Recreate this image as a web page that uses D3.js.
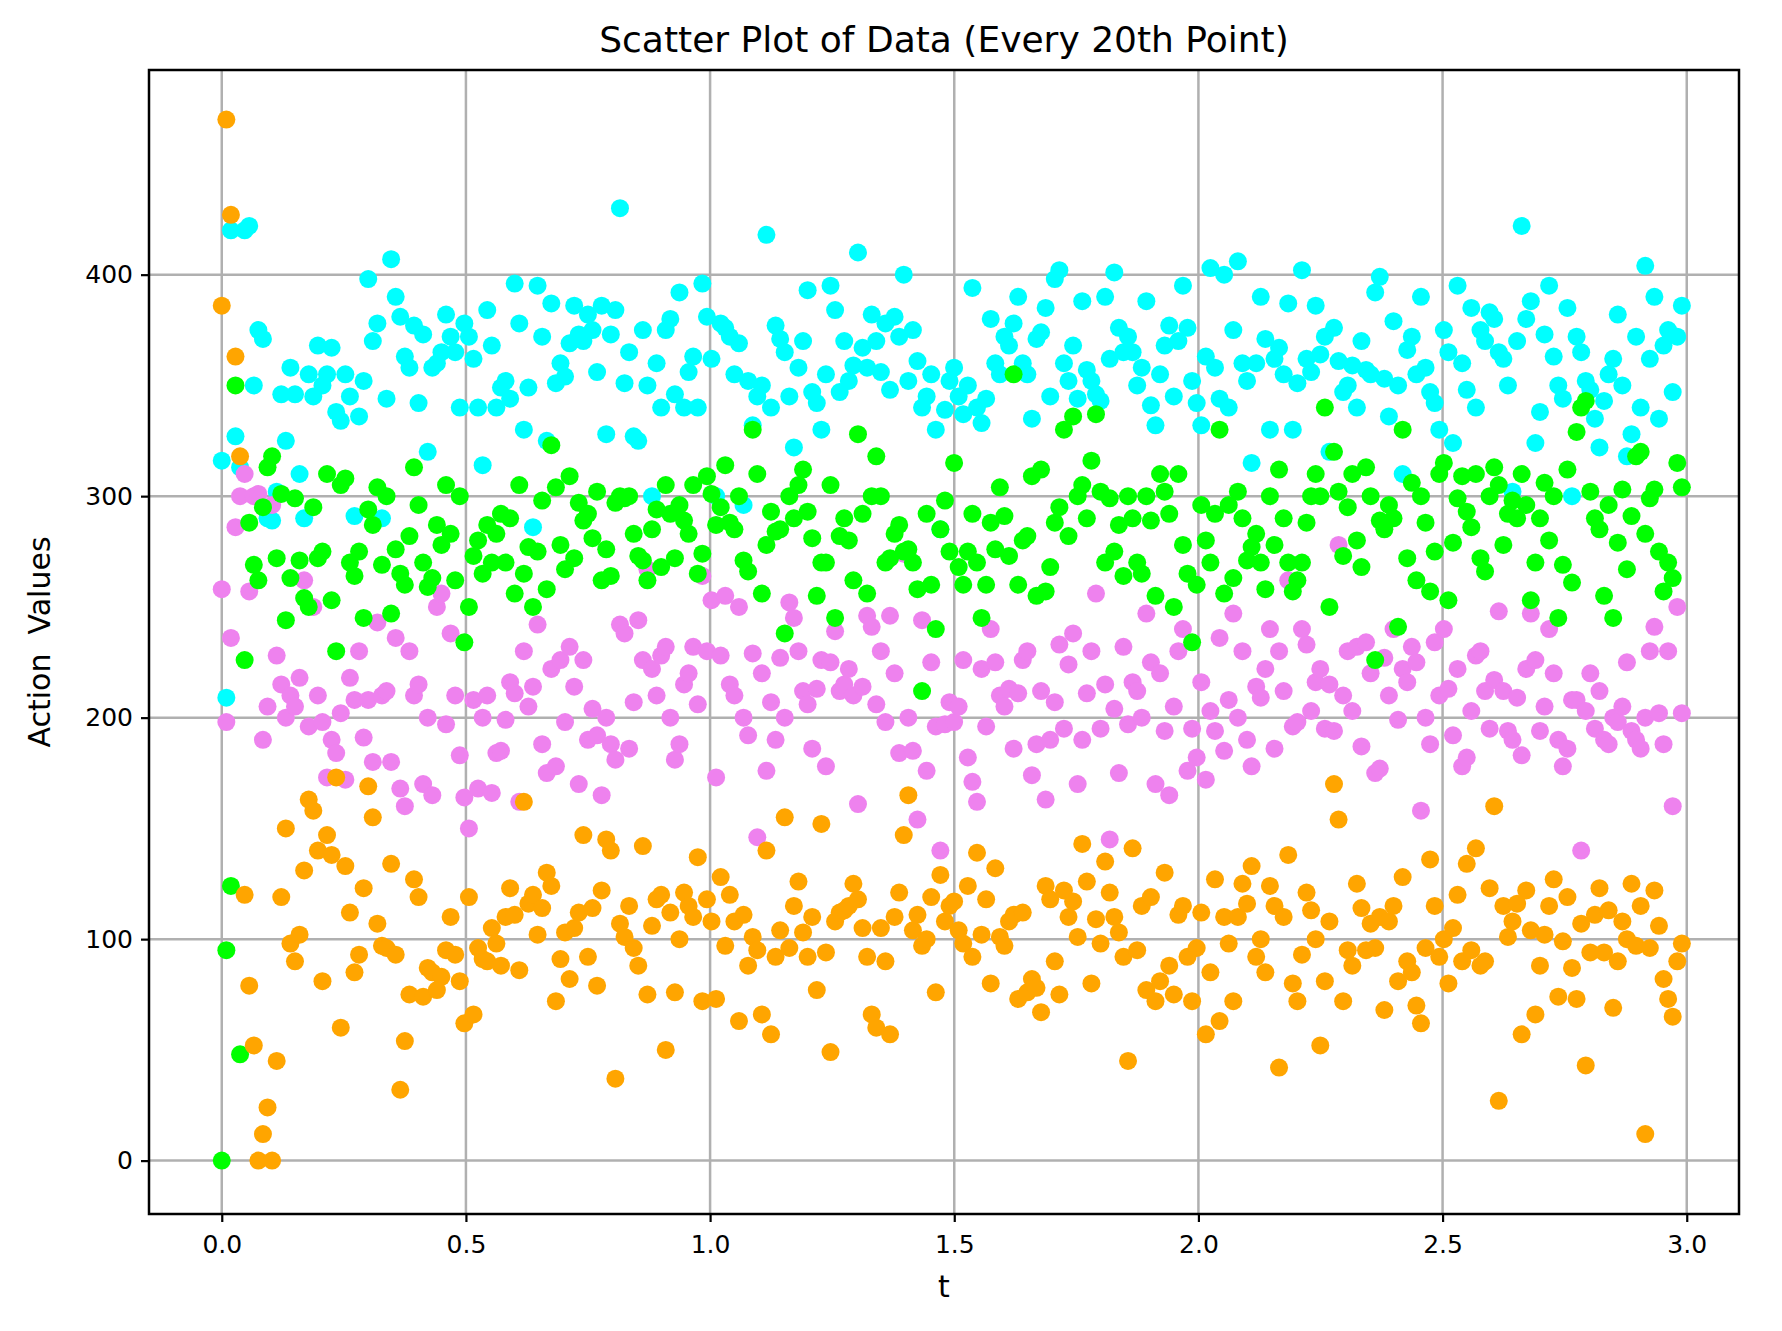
<!DOCTYPE html>
<html><head><meta charset="utf-8">
<script src="https://cdn.jsdelivr.net/npm/d3@7"></script>
<style>body{margin:0;background:#fff}text{font-family:"DejaVu Sans",sans-serif}</style>
</head><body><svg id="c" width="1782" height="1331"></svg>
<script>
const xTicks=[0,0.5,1,1.5,2,2.5,3];
const yTicks=[0,100,200,300,400];
const cyanVals=[316,209,420,327,313,420,422,350,375,371,290,289,302,346,325,358,346,310,290,355,
345,368,350,355,367,338,334,355,345,291,336,352,398,370,378,290,344,407,390,381,
363,358,377,342,373,320,358,360,365,382,372,365,340,378,372,362,340,314,384,368,
340,349,352,344,396,378,330,349,286,395,372,325,387,351,360,354,369,386,373,370,
382,375,356,386,328,373,384,430,351,365,327,325,375,350,300,360,340,375,380,346,
392,340,356,363,340,396,381,362,300,378,376,372,355,369,296,352,332,345,350,418,
340,377,371,365,345,322,358,370,393,347,342,330,355,395,384,347,370,352,359,410,
367,358,382,370,356,378,348,381,372,400,352,375,361,340,345,355,330,285,339,352,
358,345,337,350,394,340,333,344,380,360,355,372,368,378,390,360,355,335,371,374,
385,345,398,402,360,352,368,344,388,357,352,346,343,390,362,401,376,365,372,365,
350,358,388,341,332,355,368,377,345,370,395,376,352,342,332,363,403,358,344,400,
340,375,406,360,352,315,360,390,371,330,362,367,355,387,330,351,402,362,356,386,
364,372,320,376,361,347,350,359,340,370,357,355,392,399,353,336,379,350,310,366,
372,355,390,358,347,342,330,375,365,324,395,360,348,385,340,375,370,383,380,365,
362,350,302,370,422,380,388,324,338,373,395,363,350,344,385,300,372,365,352,348,
335,322,343,355,362,382,350,318,328,372,340,404,362,390,335,368,375,347,372,386];
const violetVals=[258,198,236,286,300,310,257,300,301,190,205,296,228,215,200,210,205,218,262,196,
250,210,198,173,190,184,202,172,218,208,230,191,208,180,243,210,212,180,236,168,
160,230,210,215,170,200,165,250,256,197,238,210,183,164,150,208,168,200,210,166,
184,185,199,216,211,162,230,205,214,242,188,175,222,178,226,198,232,214,170,226,
190,204,192,165,200,188,181,242,238,186,207,244,226,267,222,210,228,232,200,181,
188,215,220,232,206,264,230,253,173,228,255,215,210,250,200,192,229,146,220,176,
207,190,227,200,252,245,230,212,206,186,213,226,178,225,239,212,215,222,210,161,
214,246,241,206,230,198,246,220,184,274,200,185,154,244,176,225,196,140,197,207,
198,205,226,182,171,162,222,196,240,225,210,205,213,186,211,226,230,174,188,212,
163,190,207,233,195,224,238,170,190,211,230,256,195,215,145,204,175,232,197,216,
212,200,247,225,170,220,194,165,205,230,240,176,195,182,216,172,203,194,236,185,
208,247,200,230,190,178,214,209,222,240,186,230,212,262,196,198,240,233,203,216,
222,195,215,194,278,210,230,203,232,187,234,220,175,177,227,210,240,199,222,216,
232,225,158,200,188,234,210,240,213,192,222,178,182,203,228,230,212,195,217,248,
212,194,190,209,183,222,247,226,194,205,240,220,190,178,186,208,208,140,203,220,
195,212,190,188,200,198,205,225,194,190,186,200,230,241,202,188,230,160,250,202];
const greenVals=[0,95,124,350,48,226,288,269,262,295,313,318,272,301,244,263,299,271,254,250,
295,272,275,310,253,230,305,308,270,264,275,245,294,287,304,269,300,247,276,265,
260,282,313,296,270,259,263,287,278,305,283,262,300,234,250,273,280,265,287,270,
283,292,270,290,256,305,265,277,250,275,298,258,323,304,278,267,309,272,297,289,
292,281,302,262,276,264,297,300,299,300,283,273,271,262,285,294,268,305,292,272,
296,289,283,305,265,274,309,301,287,295,314,288,285,300,271,266,330,310,256,278,
293,284,285,238,300,290,305,312,293,281,255,270,270,305,245,282,290,280,262,328,
292,256,300,318,300,270,272,283,287,275,276,270,258,212,292,260,240,285,298,275,
315,268,260,275,292,270,245,260,288,276,304,291,273,355,260,280,282,309,255,312,
257,268,288,295,330,282,336,300,305,290,316,337,302,270,299,275,287,264,300,290,
270,265,300,289,255,310,302,292,250,310,278,265,234,260,296,280,270,292,330,256,
296,263,302,290,271,277,283,270,258,300,278,312,290,270,257,262,270,288,300,310,
300,340,250,320,302,273,295,310,280,268,313,300,226,289,285,296,290,241,330,272,
306,262,300,288,257,275,310,315,253,279,299,309,293,286,310,272,266,300,313,305,
278,292,298,290,310,296,253,270,290,306,280,300,245,269,312,261,329,340,343,302,
290,285,255,296,245,279,303,267,291,318,320,283,299,303,275,257,270,263,315,304];
const orangeVals=[386,470,427,363,318,120,79,52,0,12,24,0,45,119,150,98,90,102,131,163,
158,140,81,147,138,173,60,133,112,85,93,123,169,155,107,97,96,134,93,32,
54,75,127,119,74,87,85,77,83,95,110,93,81,62,119,66,96,91,90,105,
98,88,110,123,111,86,162,116,120,102,114,130,124,72,91,103,82,105,112,147,
92,114,79,122,145,140,37,107,101,115,96,88,142,75,106,118,120,50,112,76,
100,121,115,110,137,72,118,108,73,128,97,120,108,63,111,88,101,95,66,140,
57,92,104,155,96,115,126,103,92,110,77,152,94,49,108,112,113,115,125,118,
105,92,66,60,105,90,57,110,121,147,165,104,111,97,100,119,76,129,108,115,
117,104,98,124,92,139,102,118,80,132,101,97,108,111,73,112,76,82,78,67,
124,118,90,75,122,110,117,101,143,126,80,109,98,135,121,110,103,92,45,141,
95,115,77,119,72,81,130,88,75,111,115,92,72,96,112,57,85,127,63,110,
98,72,110,125,116,133,92,100,85,124,115,42,110,138,80,72,93,121,113,100,
52,81,108,170,154,72,95,88,125,114,95,107,96,110,68,108,115,81,128,90,
85,70,62,96,136,115,92,100,80,105,120,90,134,95,141,88,90,123,160,27,
115,101,108,116,57,122,104,66,88,102,115,127,74,99,119,87,73,107,43,94,
111,123,94,113,69,90,108,100,125,97,115,12,96,122,106,82,73,65,90,98];
const series=[{v:cyanVals,c:"#00ffff"},{v:violetVals,c:"#ee82ee"},{v:greenVals,c:"#00ff00"},{v:orangeVals,c:"#ffa500"}];
const svg=d3.select("#c");
const L=149,R=1739,T=70,B=1214;
const x=d3.scaleLinear().domain([-0.149,3.107]).range([L,R]);
const y=d3.scaleLinear().domain([-24.1,492.4]).range([B,T]);
const g=svg.append("g");
xTicks.forEach(t=>g.append("line").attr("x1",x(t)).attr("x2",x(t)).attr("y1",T).attr("y2",B).attr("stroke","#b0b0b0").attr("stroke-width",2.5));
yTicks.forEach(t=>g.append("line").attr("x1",L).attr("x2",R).attr("y1",y(t)).attr("y2",y(t)).attr("stroke","#b0b0b0").attr("stroke-width",2.5));
series.forEach(s=>{
  const n=s.v.length;
  svg.append("g").selectAll("circle").data(s.v).join("circle")
   .attr("cx",(d,i)=>x(i*2.99/(n-1))).attr("cy",d=>y(d)).attr("r",9).attr("fill",s.c);
});
svg.append("rect").attr("x",L).attr("y",T).attr("width",R-L).attr("height",B-T).attr("fill","none").attr("stroke","#000").attr("stroke-width",2.5);
const xa=svg.append("g").attr("transform",`translate(0,${B})`).call(d3.axisBottom(x).tickValues(xTicks).tickFormat(d3.format(".1f")).tickSize(8).tickSizeOuter(0));
const ya=svg.append("g").attr("transform",`translate(${L},0)`).call(d3.axisLeft(y).tickValues(yTicks).tickSize(8).tickSizeOuter(0));
[xa,ya].forEach(a=>{a.select(".domain").remove();a.selectAll("line").attr("stroke-width",2.2);a.selectAll("text").attr("font-size",25).attr("fill","#000").attr("font-family","DejaVu Sans");});
xa.selectAll("text").attr("dy","1.1em");
ya.selectAll("text").attr("dx","-0.2em");
svg.append("text").attr("x",(L+R)/2).attr("y",1297).attr("text-anchor","middle").attr("font-size",30).text("t");
svg.append("text").attr("transform",`translate(50,${(T+B)/2}) rotate(-90)`).attr("text-anchor","middle").attr("font-size",30).attr("xml:space","preserve").text("Action  Values");
svg.append("text").attr("x",(L+R)/2).attr("y",52).attr("text-anchor","middle").attr("font-size",36).text("Scatter Plot of Data (Every 20th Point)");
</script></body></html>
